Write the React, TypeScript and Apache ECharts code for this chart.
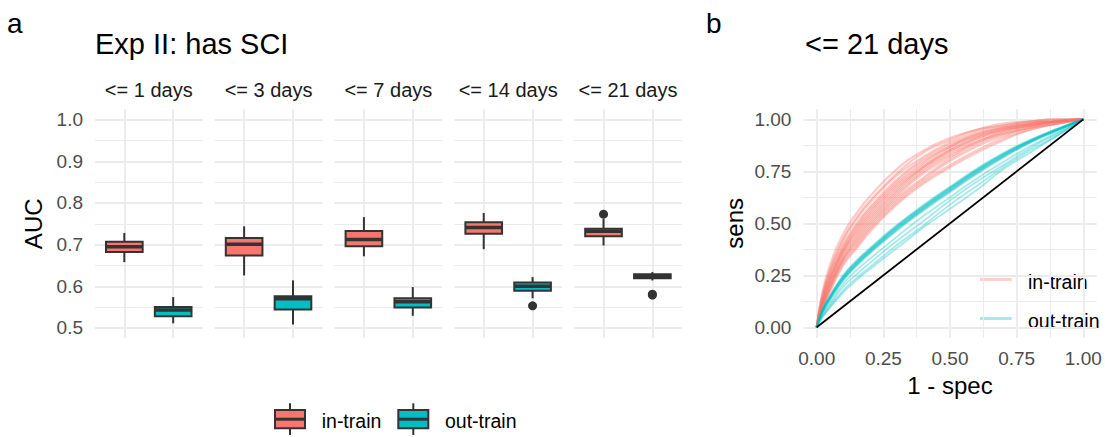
import React, { useEffect, useRef } from 'react';
import * as echarts from 'echarts';

// ---------- data ----------
const facetLabels = ['<= 1 days', '<= 3 days', '<= 7 days', '<= 14 days', '<= 21 days'];
const groupNames = ['in-train', 'out-train'];
const groupColors = ['#F8766D', '#00BFC4'];

// AUC box statistics per facet: [min, q1, median, q3, max]
const inTrainStats = [
  [0.658, 0.682, 0.695, 0.707, 0.728],
  [0.626, 0.674, 0.701, 0.716, 0.744],
  [0.672, 0.696, 0.712, 0.733, 0.766],
  [0.689, 0.726, 0.741, 0.754, 0.776],
  [0.698, 0.720, 0.732, 0.738, 0.762],
];
const outTrainStats = [
  [0.511, 0.528, 0.543, 0.550, 0.574],
  [0.508, 0.544, 0.570, 0.576, 0.614],
  [0.529, 0.549, 0.563, 0.571, 0.598],
  [0.571, 0.589, 0.600, 0.609, 0.622],
  [0.614, 0.619, 0.624, 0.629, 0.634],
];
const inTrainOutliers = [[], [], [], [], [0.773]];
const outTrainOutliers = [[], [], [], [0.553], [0.579, 0.581]];

const aucTicks = [0.5, 0.6, 0.7, 0.8, 0.9, 1.0];
const aucMinorTicks = [0.55, 0.65, 0.75, 0.85, 0.95];
const rocTicks = [0, 0.25, 0.5, 0.75, 1];
const rocMinorTicks = [0.125, 0.375, 0.625, 0.875];

// ROC curves (1 - spec grid, sens values)
const fprGrid = [0, 0.02, 0.05, 0.1, 0.15, 0.2, 0.3, 0.4, 0.5, 0.6, 0.7, 0.8, 0.9, 1];
const inTrainRoc = [
  [0, 0.16, 0.30, 0.45, 0.55, 0.63, 0.76, 0.85, 0.91, 0.95, 0.98, 0.99, 1.0, 1],
  [0, 0.15, 0.28, 0.43, 0.53, 0.61, 0.74, 0.84, 0.90, 0.95, 0.97, 0.99, 1.0, 1],
  [0, 0.14, 0.27, 0.42, 0.52, 0.60, 0.73, 0.82, 0.89, 0.94, 0.97, 0.99, 0.995, 1],
  [0, 0.13, 0.26, 0.40, 0.50, 0.58, 0.71, 0.81, 0.88, 0.93, 0.96, 0.98, 0.99, 1],
  [0, 0.13, 0.25, 0.39, 0.49, 0.57, 0.70, 0.80, 0.87, 0.93, 0.96, 0.98, 0.99, 1],
  [0, 0.12, 0.24, 0.38, 0.48, 0.56, 0.69, 0.79, 0.87, 0.92, 0.96, 0.98, 0.99, 1],
  [0, 0.12, 0.23, 0.37, 0.47, 0.55, 0.68, 0.78, 0.86, 0.92, 0.95, 0.98, 0.99, 1],
  [0, 0.11, 0.23, 0.37, 0.46, 0.54, 0.67, 0.77, 0.85, 0.91, 0.95, 0.97, 0.99, 1],
  [0, 0.11, 0.22, 0.36, 0.45, 0.53, 0.66, 0.77, 0.85, 0.91, 0.95, 0.97, 0.99, 1],
  [0, 0.11, 0.21, 0.35, 0.44, 0.52, 0.65, 0.76, 0.84, 0.90, 0.94, 0.97, 0.99, 1],
  [0, 0.10, 0.21, 0.34, 0.43, 0.51, 0.64, 0.75, 0.83, 0.89, 0.94, 0.97, 0.99, 1],
  [0, 0.10, 0.20, 0.33, 0.42, 0.50, 0.63, 0.74, 0.82, 0.89, 0.93, 0.96, 0.99, 1],
  [0, 0.09, 0.19, 0.33, 0.41, 0.49, 0.62, 0.72, 0.81, 0.88, 0.93, 0.96, 0.98, 1],
  [0, 0.09, 0.19, 0.32, 0.40, 0.48, 0.61, 0.71, 0.80, 0.87, 0.92, 0.96, 0.98, 1],
  [0, 0.09, 0.18, 0.31, 0.39, 0.47, 0.60, 0.70, 0.78, 0.85, 0.91, 0.95, 0.98, 1],
  [0, 0.08, 0.17, 0.30, 0.38, 0.46, 0.59, 0.69, 0.77, 0.84, 0.90, 0.95, 0.98, 1],
];
const outTrainRoc = [
  [0, 0.080, 0.152, 0.252, 0.322, 0.382, 0.491, 0.588, 0.676, 0.762, 0.838, 0.901, 0.954, 1],
  [0, 0.078, 0.149, 0.248, 0.318, 0.377, 0.487, 0.584, 0.672, 0.758, 0.835, 0.899, 0.953, 1],
  [0, 0.075, 0.147, 0.244, 0.314, 0.373, 0.483, 0.580, 0.669, 0.755, 0.832, 0.897, 0.951, 1],
  [0, 0.075, 0.145, 0.240, 0.310, 0.370, 0.480, 0.577, 0.666, 0.752, 0.829, 0.895, 0.950, 1],
  [0, 0.073, 0.142, 0.237, 0.307, 0.367, 0.476, 0.573, 0.662, 0.749, 0.826, 0.893, 0.949, 1],
  [0, 0.071, 0.139, 0.233, 0.303, 0.363, 0.472, 0.569, 0.658, 0.745, 0.823, 0.891, 0.948, 1],
  [0, 0.069, 0.136, 0.230, 0.300, 0.360, 0.468, 0.565, 0.654, 0.741, 0.820, 0.889, 0.946, 1],
  [0, 0.067, 0.133, 0.226, 0.296, 0.356, 0.464, 0.561, 0.650, 0.737, 0.817, 0.887, 0.945, 1],
  [0, 0.060, 0.120, 0.210, 0.275, 0.330, 0.435, 0.535, 0.625, 0.715, 0.795, 0.870, 0.935, 1],
  [0, 0.055, 0.110, 0.195, 0.255, 0.310, 0.415, 0.510, 0.610, 0.700, 0.780, 0.860, 0.930, 1],
  [0, 0.048, 0.100, 0.178, 0.238, 0.290, 0.395, 0.490, 0.590, 0.680, 0.770, 0.850, 0.920, 1],
  [0, 0.045, 0.095, 0.168, 0.228, 0.280, 0.380, 0.480, 0.570, 0.660, 0.760, 0.840, 0.920, 1],
];
const diagonal = [[0, 0], [1, 1]];

// ---------- layout / style ----------
const FONT = 'Liberation Sans, Arial, Helvetica, sans-serif';
const GRID_COLOR = '#EBEBEB';
const DARK = '#333333';
const facetLeft0 = 95;
const facetStep = 119.8;
const facetWidth = 107.5;
const panelTop = 109.3;
const panelHeight = 229;
const boxWidth = 0.75;

function boxRenderer(color: string) {
  return (params: any, api: any) => {
    const x = api.value(0);
    const lo = api.coord([x, api.value(1)]);
    const q1 = api.coord([x, api.value(2)]);
    const md = api.coord([x, api.value(3)]);
    const q3 = api.coord([x, api.value(4)]);
    const hi = api.coord([x, api.value(5)]);
    const half = api.size([boxWidth, 0])[0] / 2;
    return {
      type: 'group',
      children: [
        { type: 'line', shape: { x1: lo[0], y1: lo[1], x2: q1[0], y2: q1[1] }, style: { stroke: DARK, lineWidth: 2 } },
        { type: 'line', shape: { x1: q3[0], y1: q3[1], x2: hi[0], y2: hi[1] }, style: { stroke: DARK, lineWidth: 2 } },
        {
          type: 'rect',
          shape: { x: q3[0] - half, y: q3[1], width: 2 * half, height: q1[1] - q3[1] },
          style: { fill: color, stroke: DARK, lineWidth: 2 },
        },
        { type: 'line', shape: { x1: md[0] - half, y1: md[1], x2: md[0] + half, y2: md[1] }, style: { stroke: DARK, lineWidth: 3.5 } },
      ],
    };
  };
}

function buildOption() {
  const grids: any[] = [];
  const xAxes: any[] = [];
  const yAxes: any[] = [];
  const series: any[] = [];
  const graphic: any[] = [];

  facetLabels.forEach((label, i) => {
    const left = facetLeft0 + i * facetStep;
    grids.push({ left, top: panelTop, width: facetWidth, height: panelHeight });
    xAxes.push({
      type: 'value', gridIndex: i, min: 0.4, max: 2.6,
      axisLine: { show: false }, axisTick: { show: false, customValues: [1, 2] }, axisLabel: { show: false },
      splitLine: { show: true, lineStyle: { color: GRID_COLOR, width: 1.8 } },
    });
    yAxes.push({
      type: 'value', gridIndex: i, min: 0.475, max: 1.025,
      axisLine: { show: false },
      axisTick: { show: false, customValues: aucTicks },
      axisLabel: {
        show: i === 0, customValues: aucTicks, formatter: (v: number) => v.toFixed(1),
        color: '#4D4D4D', fontSize: 19, margin: 12, fontFamily: FONT,
      },
      splitLine: { show: true, lineStyle: { color: GRID_COLOR, width: 1.8 } },
      name: i === 0 ? 'AUC' : '', nameLocation: 'middle', nameGap: 50,
      nameTextStyle: { fontSize: 24, color: '#000', fontFamily: FONT },
    });
    yAxes.push({
      type: 'value', gridIndex: i, min: 0.475, max: 1.025,
      axisLine: { show: false }, axisTick: { show: false, customValues: aucMinorTicks }, axisLabel: { show: false },
      splitLine: { show: true, lineStyle: { color: GRID_COLOR, width: 1 } },
    });
    const stats = [inTrainStats[i], outTrainStats[i]];
    const outs = [inTrainOutliers[i], outTrainOutliers[i]];
    groupNames.forEach((g, k) => {
      series.push({
        type: 'custom', name: g, xAxisIndex: i, yAxisIndex: 2 * i,
        renderItem: boxRenderer(groupColors[k]),
        encode: { x: 0, y: [1, 2, 3, 4, 5] },
        itemStyle: { color: groupColors[k] },
        data: [[k + 1, ...stats[k]]],
        silent: true,
      });
      if (outs[k].length) {
        series.push({
          type: 'scatter', name: g + ' outliers', xAxisIndex: i, yAxisIndex: 2 * i,
          symbolSize: 9, itemStyle: { color: DARK, opacity: 1 },
          data: outs[k].map((v) => [k + 1, v]), silent: true,
        });
      }
    });
    graphic.push({
      type: 'text', x: left + facetWidth / 2, y: 90,
      style: { text: label, fontSize: 20, fill: '#1A1A1A', fontFamily: FONT, align: 'center', verticalAlign: 'middle' },
    });
  });

  // panel b
  const bGrid = grids.length;
  grids.push({ left: 803.4, top: 109, width: 293.2, height: 228.7 });
  const bx = xAxes.length;
  xAxes.push({
    type: 'value', gridIndex: bGrid, min: -0.05, max: 1.05,
    axisLine: { show: false },
    axisTick: { show: false, customValues: rocTicks },
    axisLabel: { customValues: rocTicks, formatter: (v: number) => v.toFixed(2), color: '#4D4D4D', fontSize: 19, margin: 11, fontFamily: FONT },
    splitLine: { show: true, lineStyle: { color: GRID_COLOR, width: 1.8 } },
    name: '1 - spec', nameLocation: 'middle', nameGap: 36,
    nameTextStyle: { fontSize: 24, color: '#000', fontFamily: FONT },
  });
  xAxes.push({
    type: 'value', gridIndex: bGrid, min: -0.05, max: 1.05,
    axisLine: { show: false }, axisTick: { show: false, customValues: rocMinorTicks }, axisLabel: { show: false },
    splitLine: { show: true, lineStyle: { color: GRID_COLOR, width: 1 } },
  });
  const by = yAxes.length;
  yAxes.push({
    type: 'value', gridIndex: bGrid, min: -0.05, max: 1.05,
    axisLine: { show: false },
    axisTick: { show: false, customValues: rocTicks },
    axisLabel: { customValues: rocTicks, formatter: (v: number) => v.toFixed(2), color: '#4D4D4D', fontSize: 19, margin: 12, fontFamily: FONT },
    splitLine: { show: true, lineStyle: { color: GRID_COLOR, width: 1.8 } },
    name: 'sens', nameLocation: 'middle', nameGap: 57,
    nameTextStyle: { fontSize: 24, color: '#000', fontFamily: FONT },
  });
  yAxes.push({
    type: 'value', gridIndex: bGrid, min: -0.05, max: 1.05,
    axisLine: { show: false }, axisTick: { show: false, customValues: rocMinorTicks }, axisLabel: { show: false },
    splitLine: { show: true, lineStyle: { color: GRID_COLOR, width: 1 } },
  });

  const rocSets = [inTrainRoc, outTrainRoc];
  const rocOpacity = [0.38, 0.35];
  const rocWidth = [2.2, 1.8];
  rocSets.forEach((curves, k) => {
    curves.forEach((curve) => {
      series.push({
        type: 'line', name: groupNames[k], xAxisIndex: bx, yAxisIndex: by,
        data: fprGrid.map((x, j) => [x, curve[j]]),
        showSymbol: false, smooth: 0.5, silent: true,
        lineStyle: { color: groupColors[k], width: rocWidth[k], opacity: rocOpacity[k] },
        itemStyle: { color: groupColors[k] },
      });
    });
  });
  series.push({
    type: 'line', name: 'diagonal', xAxisIndex: bx, yAxisIndex: by,
    data: diagonal, showSymbol: false, silent: true,
    lineStyle: { color: '#000', width: 1.8 },
  });

  // titles
  graphic.push({ type: 'text', x: 7, y: 23, style: { text: 'a', fontSize: 28, fill: '#000', fontFamily: FONT, verticalAlign: 'middle' } });
  graphic.push({ type: 'text', x: 95, y: 43.5, style: { text: 'Exp II: has SCI', fontSize: 29, fill: '#000', fontFamily: FONT, verticalAlign: 'middle' } });
  graphic.push({ type: 'text', x: 706, y: 23, style: { text: 'b', fontSize: 28, fill: '#000', fontFamily: FONT, verticalAlign: 'middle' } });
  graphic.push({ type: 'text', x: 805, y: 43.5, style: { text: '<= 21 days', fontSize: 29, fill: '#000', fontFamily: FONT, verticalAlign: 'middle' } });

  // bottom legend (box keys)
  const keyLefts = [275, 398.3];
  groupNames.forEach((g, k) => {
    const l = keyLefts[k];
    graphic.push({ type: 'line', shape: { x1: l + 15, y1: 403.3, x2: l + 15, y2: 435 }, style: { stroke: DARK, lineWidth: 2 } });
    graphic.push({ type: 'rect', shape: { x: l, y: 410, width: 30, height: 18.3 }, style: { fill: groupColors[k], stroke: DARK, lineWidth: 2 } });
    graphic.push({ type: 'line', shape: { x1: l, y1: 419.2, x2: l + 30, y2: 419.2 }, style: { stroke: DARK, lineWidth: 3 } });
    graphic.push({ type: 'text', x: l + 46.7, y: 420.5, style: { text: g, fontSize: 19.5, fill: '#000', fontFamily: FONT, verticalAlign: 'middle' } });
  });

  // panel b legend (line keys)
  const lineKeyY = [279.5, 318.5];
  const lineKeyColors = ['rgba(248,118,109,0.35)', 'rgba(0,191,196,0.35)'];
  groupNames.forEach((g, k) => {
    graphic.push({ type: 'line', shape: { x1: 980, y1: lineKeyY[k], x2: 1011.7, y2: lineKeyY[k] }, style: { stroke: lineKeyColors[k], lineWidth: 3 } });
    graphic.push({ type: 'text', x: 1028, y: lineKeyY[k] + 2.5, style: { text: g, fontSize: 19.5, fill: '#000', fontFamily: FONT, verticalAlign: 'middle' } });
  });

  return {
    animation: false,
    backgroundColor: '#FFFFFF',
    textStyle: { fontFamily: FONT },
    grid: grids,
    xAxis: xAxes,
    yAxis: yAxes,
    series,
    graphic,
  };
}

export default function App() {
  const ref = useRef<HTMLDivElement>(null);
  useEffect(() => {
    if (!ref.current) return;
    const chart = echarts.init(ref.current, undefined, { renderer: 'svg' });
    chart.setOption(buildOption() as any);
    return () => chart.dispose();
  }, []);
  return (
    <div
      ref={ref}
      style={{ position: 'absolute', left: 0, top: 0, width: 1105, height: 437, background: '#fff' }}
    />
  );
}
